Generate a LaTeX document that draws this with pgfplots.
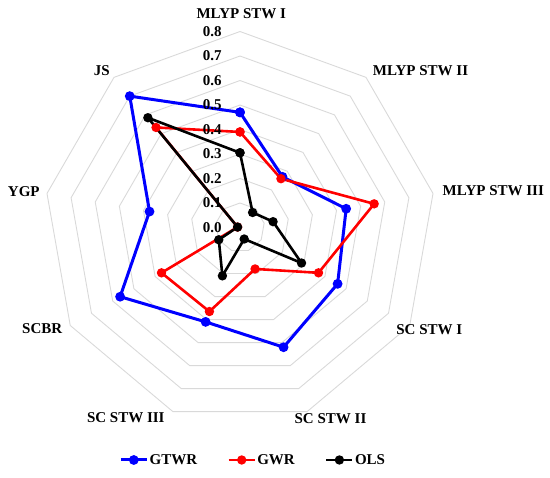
\documentclass[border=0pt]{standalone}
\usepackage{fontspec}
\setmainfont{Liberation Serif}
\usepackage{pgfplots}
\usepgfplotslibrary{polar}
\pgfplotsset{compat=1.18}
\definecolor{gridgray}{RGB}{217,217,217}
\definecolor{sblue}{RGB}{0,0,255}
\definecolor{sred}{RGB}{255,0,0}
\begin{document}
\begin{tikzpicture}[font=\fontsize{15bp}{17bp}\selectfont\bfseries]
\useasboundingbox (0,0) rectangle (550bp,478bp);
\begin{polaraxis}[
  at={(240bp,250.5bp)}, anchor=center,
  width=392bp, height=392bp, scale only axis,
  xmin=0, xmax=360, ymin=0, ymax=0.8,
  hide axis, clip=false,
  legend columns=3,
  legend style={draw=none, fill=none, at={(0.5327,-0.0931)}, anchor=center,
    nodes={inner sep=1.3bp}, cells={anchor=west},
    /tikz/every even column/.append style={column sep=29bp}},
  legend image code/.code={\draw[mark repeat=2,mark phase=2,#1] plot coordinates {(0bp,0bp)(13bp,0bp)(26bp,0bp)};},
]
% grid rings
\addplot[gridgray, line width=0.9bp, forget plot] coordinates {(90,0.1)(50,0.1)(10,0.1)(330,0.1)(290,0.1)(250,0.1)(210,0.1)(170,0.1)(130,0.1)(90,0.1)};
\addplot[gridgray, line width=0.9bp, forget plot] coordinates {(90,0.2)(50,0.2)(10,0.2)(330,0.2)(290,0.2)(250,0.2)(210,0.2)(170,0.2)(130,0.2)(90,0.2)};
\addplot[gridgray, line width=0.9bp, forget plot] coordinates {(90,0.3)(50,0.3)(10,0.3)(330,0.3)(290,0.3)(250,0.3)(210,0.3)(170,0.3)(130,0.3)(90,0.3)};
\addplot[gridgray, line width=0.9bp, forget plot] coordinates {(90,0.4)(50,0.4)(10,0.4)(330,0.4)(290,0.4)(250,0.4)(210,0.4)(170,0.4)(130,0.4)(90,0.4)};
\addplot[gridgray, line width=0.9bp, forget plot] coordinates {(90,0.5)(50,0.5)(10,0.5)(330,0.5)(290,0.5)(250,0.5)(210,0.5)(170,0.5)(130,0.5)(90,0.5)};
\addplot[gridgray, line width=0.9bp, forget plot] coordinates {(90,0.6)(50,0.6)(10,0.6)(330,0.6)(290,0.6)(250,0.6)(210,0.6)(170,0.6)(130,0.6)(90,0.6)};
\addplot[gridgray, line width=0.9bp, forget plot] coordinates {(90,0.7)(50,0.7)(10,0.7)(330,0.7)(290,0.7)(250,0.7)(210,0.7)(170,0.7)(130,0.7)(90,0.7)};
\addplot[gridgray, line width=0.9bp, forget plot] coordinates {(90,0.8)(50,0.8)(10,0.8)(330,0.8)(290,0.8)(250,0.8)(210,0.8)(170,0.8)(130,0.8)(90,0.8)};
% series
\addplot[sblue, line width=3bp, mark=*, mark size=3.3bp, mark options={solid,fill=sblue}] coordinates {
 (90,0.47)(50,0.27)(10,0.44)(330,0.46)(290,0.52)(250,0.41)(210,0.565)(170,0.375)(130,0.70)(90,0.47)};
\addlegendentry{GTWR}
\addplot[sred, line width=2.6bp, mark=*, mark size=3.3bp, mark options={solid,fill=sred}] coordinates {
 (90,0.39)(50,0.26)(10,0.556)(330,0.37)(290,0.18)(250,0.365)(210,0.37)(170,0.01)(130,0.533)(90,0.39)};
\addlegendentry{GWR}
\addplot[black, line width=2.6bp, mark=*, mark size=3.3bp, mark options={solid,fill=black}] coordinates {
 (90,0.305)(50,0.08)(10,0.137)(330,0.29)(290,0.05)(250,0.21)(210,0.10)(170,0.01)(130,0.585)(90,0.305)};
\addlegendentry{OLS}
\end{polaraxis}
% radial value labels
\foreach \k in {0,...,8} {
  \node[anchor=east, inner sep=0pt] at (221.7bp, {250.5bp+24.5bp*\k}) {0.\k};
}
% category labels
\node[inner sep=0pt] at (241.3bp,464bp) {MLYP STW I};
\node[inner sep=0pt] at (420.5bp,407.3bp) {MLYP STW II};
\node[inner sep=0pt] at (493.3bp,287bp) {MLYP STW III};
\node[inner sep=0pt] at (429.3bp,148.7bp) {SC STW I};
\node[inner sep=0pt] at (330.5bp,59.7bp) {SC STW II};
\node[inner sep=0pt] at (125.8bp,60bp) {SC STW III};
\node[inner sep=0pt] at (42.2bp,149bp) {SCBR};
\node[inner sep=0pt] at (23.8bp,286.3bp) {YGP};
\node[inner sep=0pt] at (101.7bp,407.3bp) {JS};
\end{tikzpicture}
\end{document}
